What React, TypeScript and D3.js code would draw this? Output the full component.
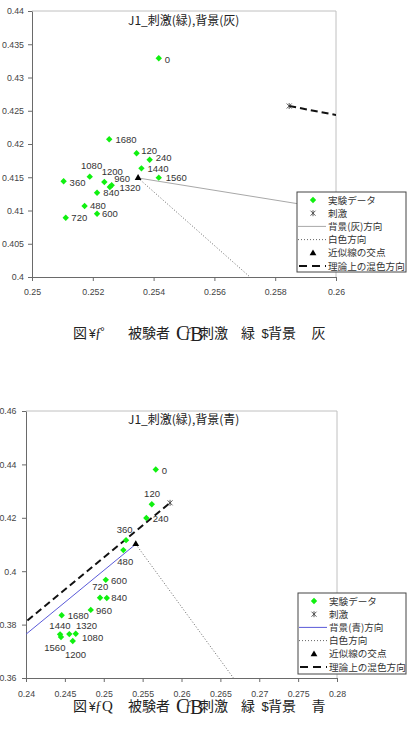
import * as d3 from 'd3'
import { useEffect, useRef } from 'react'

// elapsed time labels (same for both figures)
const times = ['0', '120', '240', '360', '480', '600', '720', '840', '960', '1080', '1200', '1320', '1440', '1560', '1680']

// Fig 1: stimulus green, background gray
const grayX = [0.25417, 0.25344, 0.25387, 0.25104, 0.25173, 0.25214, 0.25111, 0.25214, 0.25262, 0.2519, 0.25238, 0.25256, 0.2536, 0.25417, 0.25254]
const grayY = [0.43289, 0.4186, 0.41764, 0.41439, 0.41068, 0.40952, 0.40892, 0.41268, 0.41379, 0.41509, 0.41429, 0.41353, 0.41634, 0.41494, 0.42071]
const grayStimulus: [number, number] = [0.25846, 0.42571]
const grayCross: [number, number] = [0.25349, 0.41489]
const grayBgDir: [number, number][] = [[0.25349, 0.41489], [0.26, 0.41009]]
const grayWhiteDir: [number, number][] = [[0.25349, 0.41489], [0.25717, 0.4]]
const grayMixDir: [number, number][] = [[0.25846, 0.42571], [0.262, 0.42261]]
const grayXTicks = [0.25, 0.252, 0.254, 0.256, 0.258, 0.26]
const grayYTicks = [0.4, 0.405, 0.41, 0.415, 0.42, 0.425, 0.43, 0.435, 0.44]

// Fig 2: stimulus green, background blue
const blueX = [0.25669, 0.25618, 0.25548, 0.25287, 0.25252, 0.25026, 0.24952, 0.25039, 0.24833, 0.2464, 0.24601, 0.24557, 0.24438, 0.2445, 0.24459]
const blueY = [0.4381, 0.4251, 0.4199, 0.41162, 0.4079, 0.39676, 0.39008, 0.38997, 0.38551, 0.3766, 0.37385, 0.37645, 0.37634, 0.37534, 0.3835]
const blueStimulus: [number, number] = [0.25853, 0.4256]
const blueCross: [number, number] = [0.25412, 0.41013]
const blueBgDir: [number, number][] = [[0.238, 0.37162], [0.25412, 0.41013]]
const blueWhiteDir: [number, number][] = [[0.25412, 0.41013], [0.26668, 0.36]]
const blueMixDir: [number, number][] = [[0.238, 0.37629], [0.25853, 0.4256]]
const blueXTicks = [0.24, 0.245, 0.25, 0.255, 0.26, 0.265, 0.27, 0.275, 0.28]
const blueYTicks = [0.36, 0.38, 0.4, 0.42, 0.44, 0.46]

const legendText = (bg: string) => ['実験データ', '刺激', `背景(${bg})方向`, '白色方向', '近似線の交点', '理論上の混色方向']

// label placement (px from the point: text start, vertical centre)
const grayLabelPos = [[6, 1], [4.6, -2.6], [6, -1.7], [6, 1], [5.3, 0], [5, 0], [5.6, 0.3], [6.3, 0], [2.6, -7], [-8.7, -10.7], [-2.6, -10], [9.6, 0.7], [6, 0], [7, 0], [6.3, 0.7]]
const blueLabelPos = [[6, 1], [-7.7, -10.7], [6.4, 0.6], [-9.3, -10.3], [-6, 11.7], [5.3, 0.7], [-7.7, -10.7], [4.5, 0], [5.3, 0.7], [6.3, 4], [-7.7, 13.3], [6.7, -8.7], [-10.7, -9], [-16.7, 10.3], [6, 0]]

const NUM_FONT = '"Liberation Sans", Arial, sans-serif'
const JP_FONT = '"Noto Sans CJK JP", sans-serif'
const SERIF = '"Liberation Serif", serif'

interface ChartCfg {
  id: string
  xs: number[]
  ys: number[]
  labelPos: number[][]
  stimulus: [number, number]
  cross: [number, number]
  bgDir: [number, number][]
  whiteDir: [number, number][]
  mixDir: [number, number][]
  xTicks: number[]
  yTicks: number[]
  bgColor: string
  bgName: string
  box: { left: number; right: number; top: number; bottom: number }
  legend: { x: number; y: number; w: number; h: number }
  title: string
  titleY: number
  tickPadY: number
  tickPadX: number
  caption: string
  captionY: number
}

const fmt = (d: d3.NumberValue) => String(parseFloat((+d).toFixed(4)))

function drawChart(svg: d3.Selection<SVGSVGElement, unknown, null, undefined>, c: ChartCfg) {
  const { left, right, top, bottom } = c.box
  const x = d3.scaleLinear().domain([c.xTicks[0], c.xTicks[c.xTicks.length - 1]]).range([left, right])
  const y = d3.scaleLinear().domain([c.yTicks[0], c.yTicks[c.yTicks.length - 1]]).range([bottom, top])

  const g = svg.append('g')

  g.append('clipPath')
    .attr('id', 'clip-' + c.id)
    .append('rect')
    .attr('x', left)
    .attr('y', top)
    .attr('width', right - left)
    .attr('height', bottom - top)

  // plot frame (top and right)
  g.append('path')
    .attr('d', `M${left},${top}H${right}V${bottom}`)
    .attr('fill', 'none')
    .attr('stroke', '#c0c0c0')

  const xAxis = g
    .append('g')
    .attr('transform', `translate(0,${bottom})`)
    .call(d3.axisBottom(x).tickValues(c.xTicks).tickSize(4).tickSizeOuter(0).tickPadding(c.tickPadX).tickFormat(fmt))
  const yAxis = g
    .append('g')
    .attr('transform', `translate(${left},0)`)
    .call(d3.axisLeft(y).tickValues(c.yTicks).tickSize(4).tickSizeOuter(0).tickPadding(c.tickPadY).tickFormat(fmt))

  for (const ax of [xAxis, yAxis]) {
    ax.select('.domain').attr('stroke', '#6a6a6a')
    ax.selectAll('.tick line').attr('stroke', '#6a6a6a')
    ax.selectAll('.tick text')
      .attr('fill', '#444')
      .style('font-family', NUM_FONT)
      .style('font-size', '8.8px')
  }

  const line = d3
    .line<[number, number]>()
    .x((d) => x(d[0]))
    .y((d) => y(d[1]))

  const lines = g.append('g').attr('clip-path', `url(#clip-${c.id})`)
  lines.append('path')
    .attr('d', line(c.bgDir))
    .attr('fill', 'none')
    .attr('stroke', c.bgColor)
    .attr('stroke-width', 1)
  lines.append('path')
    .attr('d', line(c.whiteDir))
    .attr('fill', 'none')
    .attr('stroke', '#555')
    .attr('stroke-width', 0.9)
    .attr('stroke-dasharray', '1,2')
  lines.append('path')
    .attr('d', line(c.mixDir))
    .attr('fill', 'none')
    .attr('stroke', '#111')
    .attr('stroke-width', 2)
    .attr('stroke-dasharray', '7,4')

  const diamond = 'M0,-3.2L3.2,0L0,3.2L-3.2,0Z'
  const star = 'M-2.5,-2.5L2.5,2.5M-2.5,2.5L2.5,-2.5M0,-3L0,3'
  const tri = d3.symbol(d3.symbolTriangle, 20)() ?? ''

  const pts = c.xs.map((v, i) => [v, c.ys[i]] as [number, number])

  g.append('g')
    .selectAll('path')
    .data(pts)
    .enter()
    .append('path')
    .attr('d', diamond)
    .attr('transform', (d) => `translate(${x(d[0])},${y(d[1])})`)
    .attr('fill', '#10f010')

  g.append('g')
    .selectAll('text')
    .data(pts)
    .enter()
    .append('text')
    .attr('x', (d, i) => x(d[0]) + c.labelPos[i][0])
    .attr('y', (d, i) => y(d[1]) + c.labelPos[i][1] + 3.3)
    .attr('fill', '#333')
    .style('font-family', NUM_FONT)
    .style('font-size', '9.5px')
    .text((_d, i) => times[i])

  g.append('path')
    .attr('d', star)
    .attr('transform', `translate(${x(c.stimulus[0])},${y(c.stimulus[1])})`)
    .attr('stroke', '#333')
    .attr('stroke-width', 0.8)
    .attr('fill', 'none')

  g.append('path')
    .attr('d', tri)
    .attr('transform', `translate(${x(c.cross[0])},${y(c.cross[1])})`)
    .attr('fill', '#000')

  g.append('text')
    .attr('x', 128)
    .attr('y', c.titleY)
    .attr('fill', '#222')
    .style('font-family', JP_FONT)
    .style('font-size', '12px')
    .text(c.title)

  // legend
  const L = c.legend
  const lg = g.append('g').attr('transform', `translate(${L.x},${L.y})`)
  lg.append('rect')
    .attr('width', L.w)
    .attr('height', L.h)
    .attr('fill', '#fff')
    .attr('stroke', '#444')
    .attr('stroke-width', 1)
  const labels = legendText(c.bgName)
  labels.forEach((t, i) => {
    const ry = 8 + i * 13.2
    const row = lg.append('g').attr('transform', `translate(0,${ry})`)
    if (i === 0) row.append('path').attr('d', diamond).attr('transform', 'translate(16,0)').attr('fill', '#10f010')
    if (i === 1) row.append('path').attr('d', star).attr('transform', 'translate(16,0)').attr('stroke', '#333').attr('stroke-width', 0.8)
    if (i === 2) row.append('line').attr('x1', 1).attr('x2', 29).attr('stroke', c.bgColor)
    if (i === 3) row.append('line').attr('x1', 1).attr('x2', 29).attr('stroke', '#555').attr('stroke-width', 0.9).attr('stroke-dasharray', '1,2')
    if (i === 4) row.append('path').attr('d', tri).attr('transform', 'translate(16,0.5)').attr('fill', '#000')
    if (i === 5) row.append('line').attr('x1', 2).attr('x2', 29).attr('stroke', '#111').attr('stroke-width', 1.8).attr('stroke-dasharray', '8,5')
    row.append('text')
      .attr('x', 31)
      .attr('y', 3.6)
      .attr('fill', '#333')
      .style('font-family', JP_FONT)
      .style('font-size', '9.6px')
      .text(t)
  })

  // caption (garbled glyphs as in the source)
  const cy = c.captionY
  const cap = g.append('g').attr('fill', '#222')
  const piece = (t: string, px: number, size: number, fam: string, dy = 0) =>
    cap.append('text').attr('x', px).attr('y', cy + dy).style('font-family', fam).style('font-size', size + 'px').text(t)
  piece('図', 73, 14, JP_FONT)
  piece('¥', 89, 12, NUM_FONT)
  piece('ƒ', 95, 14, SERIF)
  if (c.caption === '°') piece('°', 100, 12, NUM_FONT, -2)
  else piece('Q', 102, 15, SERIF)
  piece('被験者', 128, 14, JP_FONT)
  piece('C', 176, 20, SERIF, 2)
  piece('ƒ', 185, 14, SERIF)
  piece('B', 190, 20, SERIF, 3)
  piece('刺激', 200, 14, JP_FONT)
  piece('緑', 241, 14, JP_FONT)
  piece('$', 261.5, 13, NUM_FONT)
  piece('背景', 268, 14, JP_FONT)
  piece(c.bgName, 311.5, 14, JP_FONT)
}

const App = () => {
  const ref = useRef<SVGSVGElement>(null)

  useEffect(() => {
    if (!ref.current) return
    const svg = d3.select(ref.current)
    svg.selectAll('*').remove()

    drawChart(svg, {
      id: 'gray',
      xs: grayX,
      ys: grayY,
      labelPos: grayLabelPos,
      stimulus: grayStimulus,
      cross: grayCross,
      bgDir: grayBgDir,
      whiteDir: grayWhiteDir,
      mixDir: grayMixDir,
      xTicks: grayXTicks,
      yTicks: grayYTicks,
      bgColor: '#a8a8a8',
      bgName: '灰',
      box: { left: 32, right: 336, top: 11, bottom: 277 },
      legend: { x: 297, y: 192, w: 109, h: 80 },
      title: 'J1_刺激(緑),背景(灰)',
      titleY: 24.5,
      tickPadY: 4,
      tickPadX: 7.5,
      caption: '°',
      captionY: 337.5,
    })

    drawChart(svg, {
      id: 'blue',
      xs: blueX,
      ys: blueY,
      labelPos: blueLabelPos,
      stimulus: blueStimulus,
      cross: blueCross,
      bgDir: blueBgDir,
      whiteDir: blueWhiteDir,
      mixDir: blueMixDir,
      xTicks: blueXTicks,
      yTicks: blueYTicks,
      bgColor: '#5a5ad8',
      bgName: '青',
      box: { left: 26, right: 337, top: 411, bottom: 678 },
      legend: { x: 298, y: 593, w: 108, h: 81 },
      title: 'J1_刺激(緑),背景(青)',
      titleY: 423.5,
      tickPadY: 5.5,
      tickPadX: 8.5,
      caption: 'Q',
      captionY: 711,
    })
  }, [])

  return (
    <svg
      ref={ref}
      width={415}
      height={743}
      style={{ position: 'absolute', left: 0, top: 0, background: '#fff' }}
    />
  )
}

export default App
